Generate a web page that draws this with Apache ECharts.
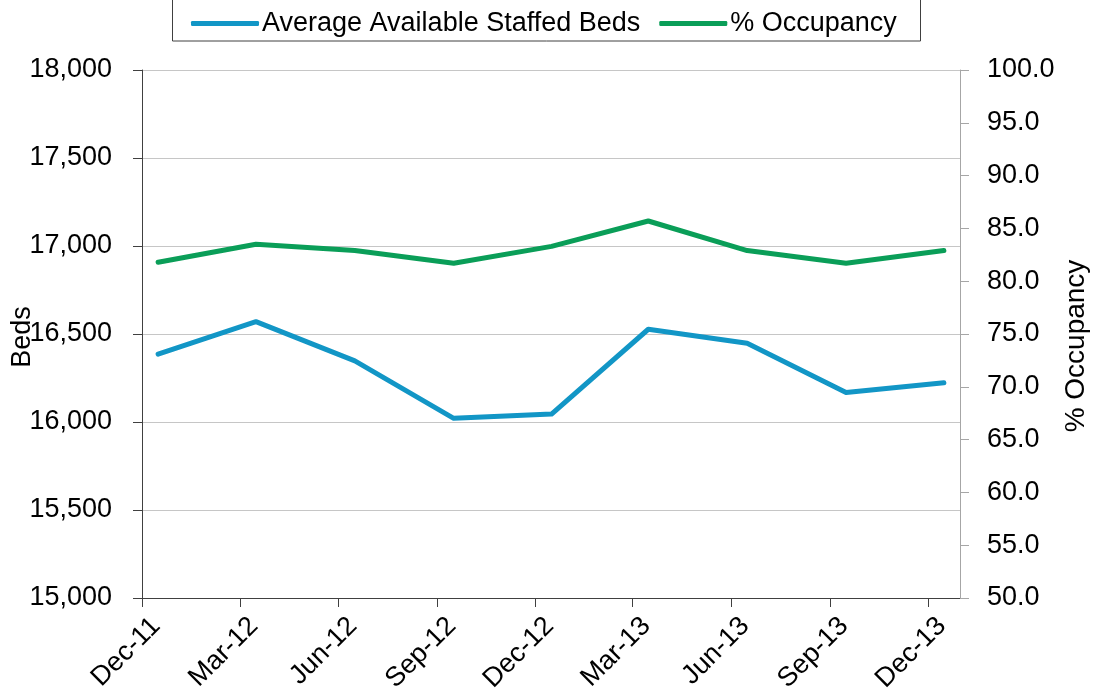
<!DOCTYPE html>
<html>
<head>
<meta charset="utf-8">
<script src="https://cdn.jsdelivr.net/npm/echarts@6/dist/echarts.min.js"></script>
<style>
html,body{margin:0;padding:0;background:#fff;}
#chart{width:1095px;height:695px;}
</style>
</head>
<body>
<div id="chart"></div>
<script>
// ---- data ----
const tickLabels = ['Dec-11','Mar-12','Jun-12','Sep-12','Dec-12','Mar-13','Jun-13','Sep-13','Dec-13'];
const tickDates  = ['2011-12-01','2012-03-01','2012-06-01','2012-09-01','2012-12-01','2013-03-01','2013-06-01','2013-09-01','2013-12-01'];
const pointDates = ['2011-12-16','2012-03-16','2012-06-16','2012-09-16','2012-12-16','2013-03-16','2013-06-16','2013-09-16','2013-12-16'];
const bedsValues = [16385, 16570, 16347, 16021, 16045, 16527, 16447, 16167, 16223];
const occupancyValues = [81.8, 83.5, 82.9, 81.7, 83.3, 85.7, 82.9, 81.7, 82.9];
const seriesNames = ['Average Available Staffed Beds', '% Occupancy'];
const axisStart = '2011-12-01';
const axisEnd = '2013-12-31';

const ts = s => Date.parse(s + 'T00:00:00Z');
const tickTs = tickDates.map(ts);
const FONT = 'Liberation Sans, Arial, sans-serif';
const FS = 27;

const chart = echarts.init(document.getElementById('chart'), null, {renderer: 'canvas'});
chart.setOption({
  backgroundColor: '#ffffff',
  animation: false,
  textStyle: {fontFamily: FONT},
  grid: {left: 142, right: 135, top: 70, bottom: 97, outerBoundsMode: 'none'},
  legend: {
    left: 186, top: 5,
    itemGap: 19,
    itemWidth: 68, itemHeight: 5,
    icon: 'roundRect',
    textStyle: {fontSize: FS, color: '#000', fontFamily: FONT, padding: [0,0,0,-2]},
    data: seriesNames
  },
  graphic: [{
    type: 'rect', silent: true,
    shape: {x: 172.5, y: -20, width: 748, height: 61},
    style: {fill: 'none', stroke: '#404040', lineWidth: 1}
  }],
  xAxis: {
    type: 'value',
    min: ts(axisStart), max: ts(axisEnd),
    splitLine: {show: false},
    axisLine: {lineStyle: {color: '#404040', width: 1}},
    axisTick: {show: true, length: 9, inside: false, customValues: tickTs, lineStyle: {color: '#404040'}},
    axisLabel: {
      customValues: tickTs,
      rotate: 45, margin: 38,
      padding: [0, -20, 0, 0],
      fontSize: FS, color: '#000', fontFamily: FONT,
      formatter: v => { const i = tickTs.indexOf(v); return i >= 0 ? tickLabels[i] : ''; }
    }
  },
  yAxis: [{
    type: 'value', min: 15000, max: 18000, interval: 500,
    name: 'Beds', nameLocation: 'middle', nameGap: 106, nameRotate: 90, nameMoveOverlap: false,
    nameTextStyle: {fontSize: FS, color: '#000', fontFamily: FONT, padding: [0, 6, 0, 0]},
    axisLine: {show: true, lineStyle: {color: '#404040'}},
    axisTick: {show: true, length: 9, lineStyle: {color: '#404040'}},
    axisLabel: {fontSize: FS, color: '#000', margin: 30, fontFamily: FONT,
      formatter: v => v.toLocaleString('en-US')},
    splitLine: {show: true, lineStyle: {color: '#c6c6c6', width: 1}}
  }, {
    type: 'value', min: 50, max: 100, interval: 5, position: 'right',
    name: '% Occupancy', nameLocation: 'middle', nameGap: 102, nameRotate: 90, nameMoveOverlap: false,
    nameTextStyle: {fontSize: 28, color: '#000', fontFamily: FONT, padding: [0, 24, 0, 0]},
    axisLine: {show: true, lineStyle: {color: '#a6a6a6'}},
    axisTick: {show: true, length: 9, lineStyle: {color: '#a6a6a6'}},
    axisLabel: {fontSize: FS, color: '#000', margin: 27, fontFamily: FONT,
      formatter: v => v.toFixed(1)},
    splitLine: {show: false}
  }],
  series: [{
    name: seriesNames[0], type: 'line', yAxisIndex: 0,
    data: pointDates.map((d, i) => [ts(d), bedsValues[i]]),
    showSymbol: false, symbol: 'none',
    lineStyle: {color: '#1296c6', width: 5, cap: 'round', join: 'round'},
    itemStyle: {color: '#1296c6'}
  }, {
    name: seriesNames[1], type: 'line', yAxisIndex: 1,
    data: pointDates.map((d, i) => [ts(d), occupancyValues[i]]),
    showSymbol: false, symbol: 'none',
    lineStyle: {color: '#0a9e58', width: 5, cap: 'round', join: 'round'},
    itemStyle: {color: '#0a9e58'}
  }]
});
</script>
</body>
</html>
